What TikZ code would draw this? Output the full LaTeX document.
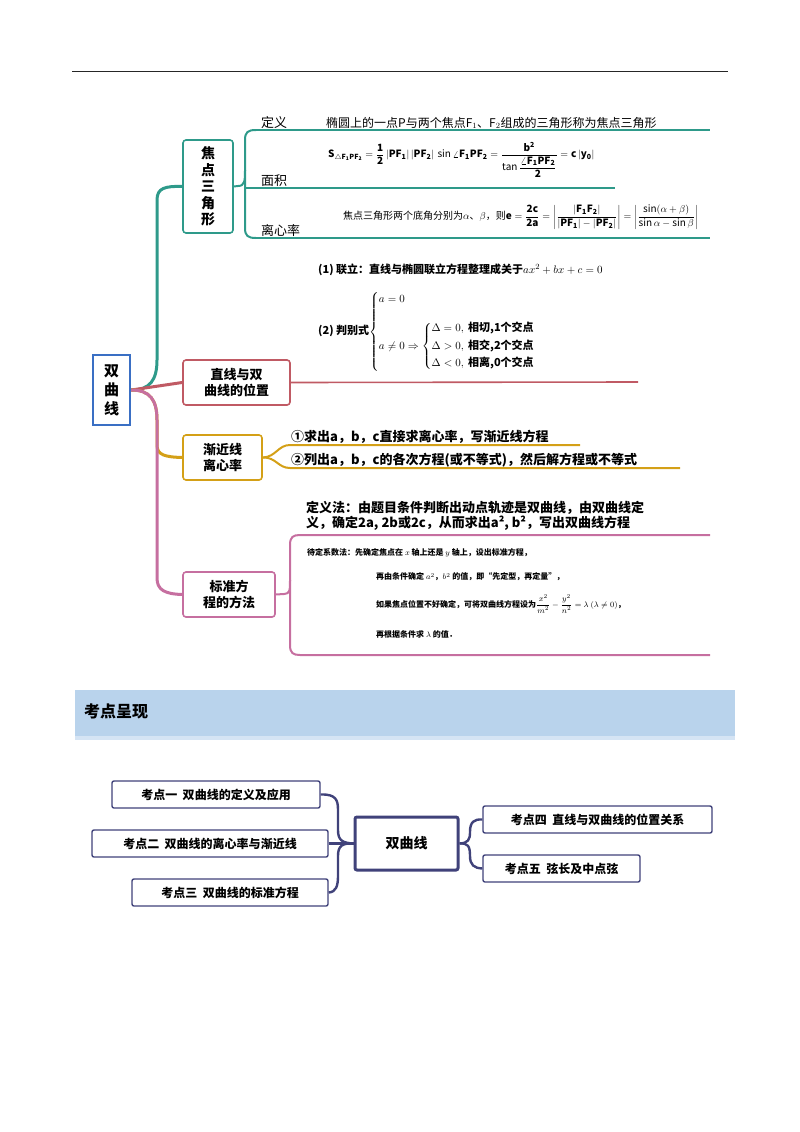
\documentclass[tikz,border=0pt]{standalone}
\usepackage{fontspec}
\usepackage{amsmath}
\newfontfamily\cjk{Noto Sans CJK SC}
\setmainfont{Noto Sans CJK SC}
\usetikzlibrary{calc}
\definecolor{teal1}{HTML}{2E9A8A}
\definecolor{red1}{HTML}{C05A64}
\definecolor{ora1}{HTML}{D4A017}
\definecolor{pur1}{HTML}{C66FA0}
\definecolor{blue1}{HTML}{3A6FC4}
\definecolor{navy}{HTML}{40427A}
\definecolor{band}{HTML}{B9D3EC}
\tikzset{
 bx/.style={draw=#1,line width=1.6pt,rounded corners=3pt,fill=white,align=center,inner sep=0pt},
 lbl/.style={anchor=south west,inner sep=1pt,font=\fontsize{13}{15}\selectfont},
 sm/.style={anchor=west,inner sep=0pt,font=\fontsize{11}{13}\selectfont\bfseries},
 kd/.style={draw=navy,line width=1.4pt,rounded corners=2pt,fill=white,font=\fontsize{12}{14}\selectfont\bfseries,inner sep=0pt},
 kc/.style={draw=navy,line width=2.4pt}
}
\begin{document}
\begin{tikzpicture}[x=1pt,y=-1pt]
\useasboundingbox (0,0) rectangle (800,1132);
\draw[line width=1pt,black!85] (72,72) -- (728,72);
% main
\node[bx=blue1,line width=2.5pt,rounded corners=0pt,minimum width=37pt,minimum height=70pt,font=\fontsize{15}{19}\selectfont\bfseries] (main) at (111.5,390) {双\\曲\\线};
% teal branch
\node[bx=teal1,minimum width=50pt,minimum height=93pt,font=\fontsize{14}{16.5}\selectfont\bfseries] (jd) at (208,186.5) {焦\\点\\三\\角\\形};
\draw[teal1,line width=3pt] (main.east) .. controls (150,390) and (157,380) .. (157,360) -- (157,200) .. controls (157,188) and (165,186) .. (jd.west);
\draw[teal1,line width=2pt] (jd.east) -- (238,186) (238,186) .. controls (245,186) and (245,180) .. (245,170) -- (245,140) .. controls (245,132) and (248,130) .. (256,130);
\draw[teal1,line width=2pt] (245,170) -- (245,228) .. controls (245,236) and (248,238) .. (256,238);
\coordinate (d1) at (256,130); \coordinate (d2) at (710,130);
\coordinate (m1) at (245,188); \coordinate (m2) at (615,188);
\coordinate (e1) at (256,238); \coordinate (e2) at (710,238);
\draw[teal1,line width=2pt] (d1) -- (d2) (m1) -- (m2) (e1) -- (e2);
\node[lbl] at (260,130) {定义};
\node[lbl] at (260,188) {面积};
\node[lbl] at (260,238) {离心率};
\node[anchor=south west,inner sep=1pt,font=\fontsize{12}{14}\selectfont] at (325,130) {椭圆上的一点P与两个焦点F$_1$、F$_2$组成的三角形称为焦点三角形};
\node[anchor=west,inner sep=0pt,font=\fontsize{10}{12}\selectfont] at (328,160) {$\mathbf{S_{\triangle F_1PF_2}=\dfrac12\,|PF_1|\,|PF_2|\,\sin\angle F_1PF_2=\dfrac{b^2}{\tan\dfrac{\angle F_1PF_2}{2}}=c\,|y_0|}$};
\node[anchor=west,inner sep=0pt,font=\fontsize{10}{12}\selectfont] at (343,217) {焦点三角形两个底角分别为$\alpha$、$\beta$，则$\mathbf{e=\dfrac{2c}{2a}=\left|\dfrac{|F_1F_2|}{|PF_1|-|PF_2|}\right|=\left|\dfrac{\sin(\alpha+\beta)}{\sin\alpha-\sin\beta}\right|}$};
% red branch
\node[bx=red1,minimum width=107pt,minimum height=45pt,font=\fontsize{13}{16}\selectfont\bfseries] (zx) at (236.5,382.5) {直线与双\\曲线的位置};
\draw[red1,line width=3pt] (main.east) -- (zx.west);
\coordinate (r2) at (638,382);
\draw[red1,line width=1.6pt] (zx.east) -- (r2);
\node[sm] at (318,270) {(1) 联立：直线与椭圆联立方程整理成关于$ax^2+bx+c=0$};
\node[sm] at (318,332) {(2) 判别式$\left\{\begin{array}{@{}l@{}}a=0\\[16pt] a\neq0\Rightarrow\left\{\begin{array}{@{}l@{}}\Delta=0,\text{ 相切,1个交点}\\[4pt]\Delta>0,\text{ 相交,2个交点}\\[4pt]\Delta<0,\text{ 相离,0个交点}\end{array}\right.\end{array}\right.$};
% orange branch
\node[bx=ora1,minimum width=79pt,minimum height=45pt,font=\fontsize{13}{16}\selectfont\bfseries] (jj) at (222.5,457.5) {渐近线\\离心率};
\draw[ora1,line width=3pt] (main.east) .. controls (150,390) and (157,400) .. (157,420) -- (157,445) .. controls (157,455) and (165,457) .. (jj.west);
\draw[ora1,line width=2pt] (jj.east) .. controls (276,457) and (278,445) .. (290,445) -- (580,445);
\draw[ora1,line width=2pt] (jj.east) .. controls (276,457) and (278,468) .. (290,468) -- (680,468);
\node[anchor=south west,inner sep=1pt,font=\fontsize{13}{15}\selectfont\bfseries] at (290,445) {①求出a，b，c直接求离心率，写渐近线方程};
\node[anchor=south west,inner sep=1pt,font=\fontsize{13}{15}\selectfont\bfseries] at (290,468) {②列出a，b，c的各次方程(或不等式)，然后解方程或不等式};
% purple branch
\node[bx=pur1,minimum width=92pt,minimum height=45pt,font=\fontsize{13}{16}\selectfont\bfseries] (bz) at (229,594.5) {标准方\\程的方法};
\draw[pur1,line width=3pt] (main.east) .. controls (150,390) and (157,400) .. (157,420) -- (157,578) .. controls (157,590) and (165,594) .. (bz.west);
\draw[pur1,line width=2pt] (bz.east) -- (284,594) .. controls (290,594) and (290,590) .. (290,580) -- (290,545) .. controls (290,537) and (293,535) .. (300,535) -- (710,535);
\draw[pur1,line width=2pt] (290,580) -- (290,645) .. controls (290,653) and (293,655) .. (300,655) -- (710,655);
\node[anchor=west,inner sep=0pt,align=left,font=\fontsize{13}{14.5}\selectfont\bfseries] at (306,516) {定义法：由题目条件判断出动点轨迹是双曲线，由双曲线定\\义，确定2a, 2b或2c，从而求出a², b²，写出双曲线方程};
\node[anchor=west,inner sep=0pt,font=\fontsize{8}{10}\selectfont\bfseries] at (307,553) {待定系数法：先确定焦点在 $x$ 轴上还是 $y$ 轴上，设出标准方程，};
\node[anchor=west,inner sep=0pt,font=\fontsize{8}{10}\selectfont\bfseries] at (376,577) {再由条件确定 $a^2$，$b^2$ 的值，即“先定型，再定量”，};
\node[anchor=west,inner sep=0pt,font=\fontsize{8}{10}\selectfont\bfseries] at (376,604) {如果焦点位置不好确定，可将双曲线方程设为$\dfrac{x^2}{m^2}-\dfrac{y^2}{n^2}=\lambda\ (\lambda\neq0)$，};
\node[anchor=west,inner sep=0pt,font=\fontsize{8}{10}\selectfont\bfseries] at (376,634) {再根据条件求 $\lambda$ 的值．};
% band
\fill[band] (75,690) rectangle (735,740);
\fill[band!60!white] (75,736) rectangle (735,740);
\node[anchor=west,inner sep=0pt,font=\fontsize{16}{18}\selectfont\bfseries] at (84,711) {考点呈现};
% bottom map
\node[kd,line width=3pt,minimum width=103pt,minimum height=53pt,font=\fontsize{14}{16}\selectfont\bfseries] (c) at (406.5,843.5) {双曲线};
\node[kd,minimum width=208pt,minimum height=27pt] (k1) at (216,794.5) {考点一\ \ 双曲线的定义及应用};
\node[kd,minimum width=236pt,minimum height=27pt] (k2) at (210,843.5) {考点二\ \ 双曲线的离心率与渐近线};
\node[kd,minimum width=196pt,minimum height=27pt] (k3) at (230,892.5) {考点三\ \ 双曲线的标准方程};
\node[kd,minimum width=229pt,minimum height=27pt] (k4) at (597.5,819.5) {考点四\ \ 直线与双曲线的位置关系};
\node[kd,minimum width=157pt,minimum height=27pt] (k5) at (561.5,868.5) {考点五\ \ 弦长及中点弦};
\draw[kc] (k1.east) .. controls (336,794) and (338,800) .. (338,810) -- (338,830) .. controls (338,840) and (342,843) .. (c.west);
\draw[kc] (k2.east) -- (c.west);
\draw[kc] (k3.east) .. controls (336,892) and (338,886) .. (338,876) -- (338,856) .. controls (338,846) and (342,843) .. (c.west);
\draw[kc] (c.east) .. controls (468,843) and (470,840) .. (470,832) .. controls (470,822) and (474,819) .. (k4.west);
\draw[kc] (c.east) .. controls (468,843) and (470,846) .. (470,856) .. controls (470,865) and (474,868) .. (k5.west);
\end{tikzpicture}
\end{document}
